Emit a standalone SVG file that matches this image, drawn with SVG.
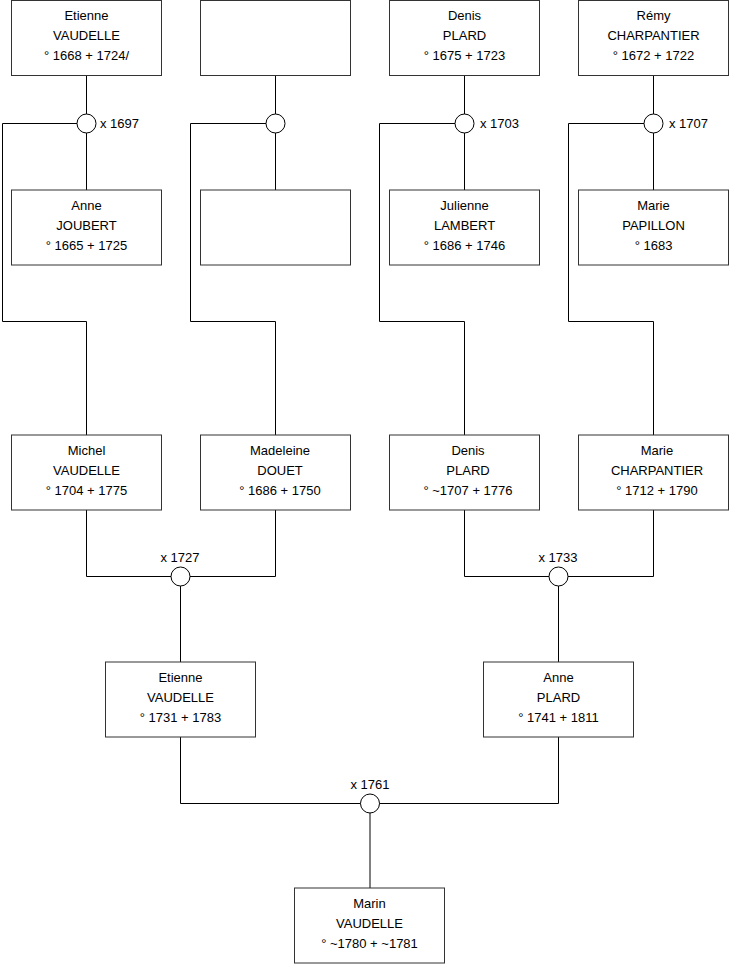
<svg xmlns="http://www.w3.org/2000/svg" width="740" height="975" viewBox="0 0 740 975">
<style>
.box{fill:#fff;stroke:#333;stroke-width:1}
.ln{fill:none;stroke:#000;stroke-width:1}
.ring{fill:#fff;stroke:#000;stroke-width:1}
text{font-family:"Liberation Sans",Arial,sans-serif;font-size:13px;fill:#000}
.c{text-anchor:middle}
</style>
<rect width="740" height="975" fill="#fff"/>
<g id="connectors">
<path class="ln" d="M86.5 76V190M275.5 76V190M464.5 76V190M653.5 76V190"/>
<path class="ln" d="M77 123.5H2.5V321.5H86.5V435M266 123.5H190.5V321.5H275.5V435M455 123.5H379.5V321.5H464.5V435M644 123.5H568.5V321.5H653.5V435"/>
<path class="ln" d="M86.5 510V576.5H275.5V510M180.5 576.5V662M464.5 510V576.5H653.5V510M558.5 576.5V662M180.5 737V803.5H558.5V737M370 803.5V888"/>
<circle class="ring" cx="86.5" cy="123.5" r="9.5"/>
<circle class="ring" cx="275.5" cy="123.5" r="9.5"/>
<circle class="ring" cx="464.5" cy="123.5" r="9.5"/>
<circle class="ring" cx="653.5" cy="123.5" r="9.5"/>
<circle class="ring" cx="180.5" cy="576.5" r="9.5"/>
<circle class="ring" cx="558.5" cy="576.5" r="9.5"/>
<circle class="ring" cx="370" cy="803.5" r="9.5"/>
<text x="100" y="128">x 1697</text>
<text x="480" y="128">x 1703</text>
<text x="669" y="128">x 1707</text>
<text class="c" x="180" y="562">x 1727</text>
<text class="c" x="558" y="562">x 1733</text>
<text class="c" x="370" y="789">x 1761</text>
</g>
<g id="n1"><rect class="box" x="11.5" y="0.5" width="150" height="75"/><text class="c" x="86.5" y="20">Etienne</text><text class="c" x="86.5" y="40">VAUDELLE</text><text class="c" x="86.5" y="60">° 1668 + 1724/</text></g>
<g id="n2"><rect class="box" x="200.5" y="0.5" width="150" height="75"/></g>
<g id="n3"><rect class="box" x="389.5" y="0.5" width="150" height="75"/><text class="c" x="464.5" y="20">Denis</text><text class="c" x="464.5" y="40">PLARD</text><text class="c" x="464.5" y="60">° 1675 + 1723</text></g>
<g id="n4"><rect class="box" x="578.5" y="0.5" width="150" height="75"/><text class="c" x="653.5" y="20">Rémy</text><text class="c" x="653.5" y="40">CHARPANTIER</text><text class="c" x="653.5" y="60">° 1672 + 1722</text></g>
<g id="n5"><rect class="box" x="11.5" y="190" width="150" height="75"/><text class="c" x="86.5" y="210">Anne</text><text class="c" x="86.5" y="230">JOUBERT</text><text class="c" x="86.5" y="250">° 1665 + 1725</text></g>
<g id="n6"><rect class="box" x="200.5" y="190" width="150" height="75"/></g>
<g id="n7"><rect class="box" x="389.5" y="190" width="150" height="75"/><text class="c" x="464.5" y="210">Julienne</text><text class="c" x="464.5" y="230">LAMBERT</text><text class="c" x="464.5" y="250">° 1686 + 1746</text></g>
<g id="n8"><rect class="box" x="578.5" y="190" width="150" height="75"/><text class="c" x="653.5" y="210">Marie</text><text class="c" x="653.5" y="230">PAPILLON</text><text class="c" x="653.5" y="250">° 1683</text></g>
<g id="n9"><rect class="box" x="11.5" y="435" width="150" height="75"/><text class="c" x="86.5" y="455">Michel</text><text class="c" x="86.5" y="475">VAUDELLE</text><text class="c" x="86.5" y="495">° 1704 + 1775</text></g>
<g id="n10"><rect class="box" x="200.5" y="435" width="150" height="75"/><text class="c" x="280" y="455">Madeleine</text><text class="c" x="280" y="475">DOUET</text><text class="c" x="280" y="495">° 1686 + 1750</text></g>
<g id="n11"><rect class="box" x="389.5" y="435" width="150" height="75"/><text class="c" x="468" y="455">Denis</text><text class="c" x="468" y="475">PLARD</text><text class="c" x="468" y="495">° ~1707 + 1776</text></g>
<g id="n12"><rect class="box" x="578.5" y="435" width="150" height="75"/><text class="c" x="657" y="455">Marie</text><text class="c" x="657" y="475">CHARPANTIER</text><text class="c" x="657" y="495">° 1712 + 1790</text></g>
<g id="n13"><rect class="box" x="105.5" y="662" width="150" height="75"/><text class="c" x="180.5" y="682">Etienne</text><text class="c" x="180.5" y="702">VAUDELLE</text><text class="c" x="180.5" y="722">° 1731 + 1783</text></g>
<g id="n14"><rect class="box" x="483.5" y="662" width="150" height="75"/><text class="c" x="558.5" y="682">Anne</text><text class="c" x="558.5" y="702">PLARD</text><text class="c" x="558.5" y="722">° 1741 + 1811</text></g>
<g id="n15"><rect class="box" x="294.5" y="888" width="150" height="75"/><text class="c" x="369.5" y="908">Marin</text><text class="c" x="369.5" y="928">VAUDELLE</text><text class="c" x="369.5" y="948">° ~1780 + ~1781</text></g>
</svg>
